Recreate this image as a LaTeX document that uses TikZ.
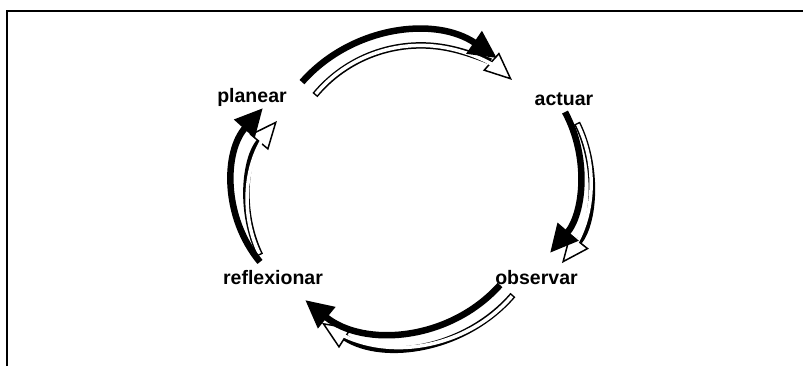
\documentclass[tikz,border=0pt]{standalone}
\usepackage{fontspec}
\setmainfont{Liberation Sans}
\usetikzlibrary{arrows.meta}
\begin{document}
\begin{tikzpicture}[x=1bp,y=1bp,
  lbl/.style={font=\bfseries\fontsize{19.5bp}{22bp}\selectfont, anchor=base, inner sep=0pt},
  solidarc/.style={line width=6.5bp, -{Triangle[length=28bp,width=26bp]}},
  shadowout/.style={line width=6.5bp, -{Triangle[length=28bp,width=24bp,fill=white,line width=1.5bp]}},
  shadowin/.style={white, line width=3.5bp, shorten >=12bp, shorten <=1.5bp},
  frameline/.style={line width=2bp}]
\useasboundingbox (0,0) rectangle (803,366);
% frame
\coordinate (fa) at (7,0);
\coordinate (fb) at (7,355);
\coordinate (fc) at (803,355);
\draw[frameline] (fa) -- (fb) -- (fc);
% centres of the arcs
\coordinate (hT) at (420.8,183);
\coordinate (hR) at (458.5,184.9);
\coordinate (hB) at (401.3,167.7);
\coordinate (hL) at (372.2,164.9);
\coordinate (bT) at (413,186);
\coordinate (bR) at (454.6,194.5);
\coordinate (bB) at (394.7,175.5);
\coordinate (bL) at (350.6,179.3);
% hollow (shadow) arrows
\draw[shadowout] ([shift={(140.3:137.6)}]hT) arc[start angle=140.3, end angle=48.5, radius=137.6];
\draw[shadowin]  ([shift={(140.3:137.6)}]hT) arc[start angle=140.3, end angle=48.5, radius=137.6];
\draw[shadowout] ([shift={(26.1:132)}]hR) arc[start angle=26.1, end angle=-38.4, radius=132];
\draw[shadowin]  ([shift={(26.1:132)}]hR) arc[start angle=26.1, end angle=-38.4, radius=132];
\draw[shadowout] ([shift={(-40.9:147.7)}]hB) arc[start angle=-40.9, end angle=-122.5, radius=147.7];
\draw[shadowin]  ([shift={(-40.9:147.7)}]hB) arc[start angle=-40.9, end angle=-122.5, radius=147.7];
\draw[shadowout] ([shift={(205.7:124.5)}]hL) arc[start angle=205.7, end angle=139.9, radius=124.5];
\draw[shadowin]  ([shift={(205.7:124.5)}]hL) arc[start angle=205.7, end angle=139.9, radius=124.5];
% solid black arrows
\draw[solidarc] ([shift={(138.6:148)}]bT) arc[start angle=138.6, end angle=55.4, radius=148];
\draw[solidarc] ([shift={(28.3:125.4)}]bR) arc[start angle=28.3, end angle=-40.5, radius=125.4];
\draw[solidarc] ([shift={(-41.9:141.5)}]bB) arc[start angle=-41.9, end angle=-129.3, radius=141.5];
\draw[solidarc] ([shift={(219.7:117.8)}]bL) arc[start angle=219.7, end angle=138.1, radius=117.8];
% labels
\node[lbl] (planear) at (252,264) {planear};
\node[lbl] (actuar) at (564,260.5) {actuar};
\node[lbl] (reflexionar) at (273,81.5) {reflexionar};
\node[lbl] (observar) at (536.5,81.5) {observar};
\end{tikzpicture}
\end{document}
